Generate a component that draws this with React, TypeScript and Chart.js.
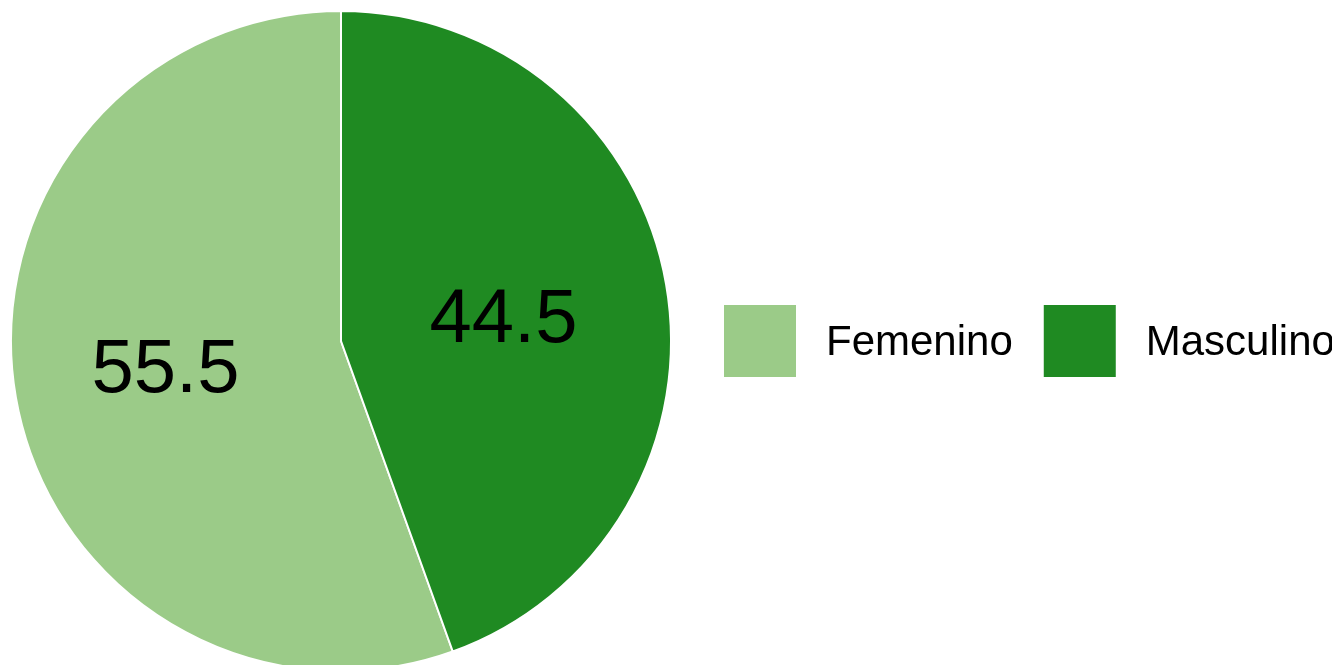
import React, { useEffect, useRef } from "react";
import { Chart, registerables } from "chart.js";

Chart.register(...registerables);

const categories = ["Femenino", "Masculino"];
const values = [55.5, 44.5];
const colors = ["#9bcb88", "#1f8a22"];

const FONT = "'Liberation Sans', Arial, Helvetica, sans-serif";

const sliceLabels = {
  id: "sliceLabels",
  afterDatasetsDraw(chart: any) {
    const ctx = chart.ctx;
    const meta = chart.getDatasetMeta(0);
    ctx.save();
    ctx.font = `76px ${FONT}`;
    ctx.fillStyle = "#000";
    ctx.textAlign = "center";
    ctx.textBaseline = "middle";
    meta.data.forEach((arc: any, i: number) => {
      const p = arc.tooltipPosition();
      const v = chart.data.datasets[0].data[i];
      const dx = i === 0 ? -13 : 0;
      const dy = i === 0 ? 2 : 8;
      ctx.fillText(String(v), p.x + dx, p.y + dy);
    });
    ctx.restore();
  },
};

const rowLegend = {
  id: "rowLegend",
  afterDraw(chart: any) {
    const ctx = chart.ctx;
    const area = chart.chartArea;
    const cy = (area.top + area.bottom) / 2;
    const box = 72;
    let x = 716;
    ctx.save();
    ctx.font = `42px ${FONT}`;
    ctx.textBaseline = "middle";
    ctx.textAlign = "left";
    chart.data.labels.forEach((lab: string, i: number) => {
      ctx.fillStyle = chart.data.datasets[0].backgroundColor[i];
      ctx.fillRect(x, cy - box / 2, box, box);
      ctx.fillStyle = "#000";
      const tx = x + box + 30;
      ctx.fillText(lab, tx, cy + 2);
      x = tx + ctx.measureText(lab).width + 31;
    });
    ctx.restore();
  },
};

export default function App() {
  const ref = useRef<HTMLCanvasElement | null>(null);
  useEffect(() => {
    if (!ref.current) return;
    const chart = new Chart(ref.current, {
      type: "pie",
      data: {
        labels: categories,
        datasets: [
          {
            data: values,
            backgroundColor: colors,
            borderColor: "#ffffff",
            borderWidth: 2,
          },
        ],
      },
      options: {
        animation: false,
        responsive: true,
        maintainAspectRatio: false,
        rotation: (values[1] / (values[0] + values[1])) * 360,
        layout: { padding: { left: 2, top: 2, right: 660, bottom: 0 } },
        plugins: {
          legend: { display: false },
          tooltip: { enabled: false },
        },
      },
      plugins: [sliceLabels, rowLegend],
    });
    return () => chart.destroy();
  }, []);
  return (
    <div style={{ width: 1324, height: 657, overflow: "hidden" }}>
      <div style={{ position: "relative", width: 1324, height: 664 }}>
        <canvas ref={ref} />
      </div>
    </div>
  );
}
